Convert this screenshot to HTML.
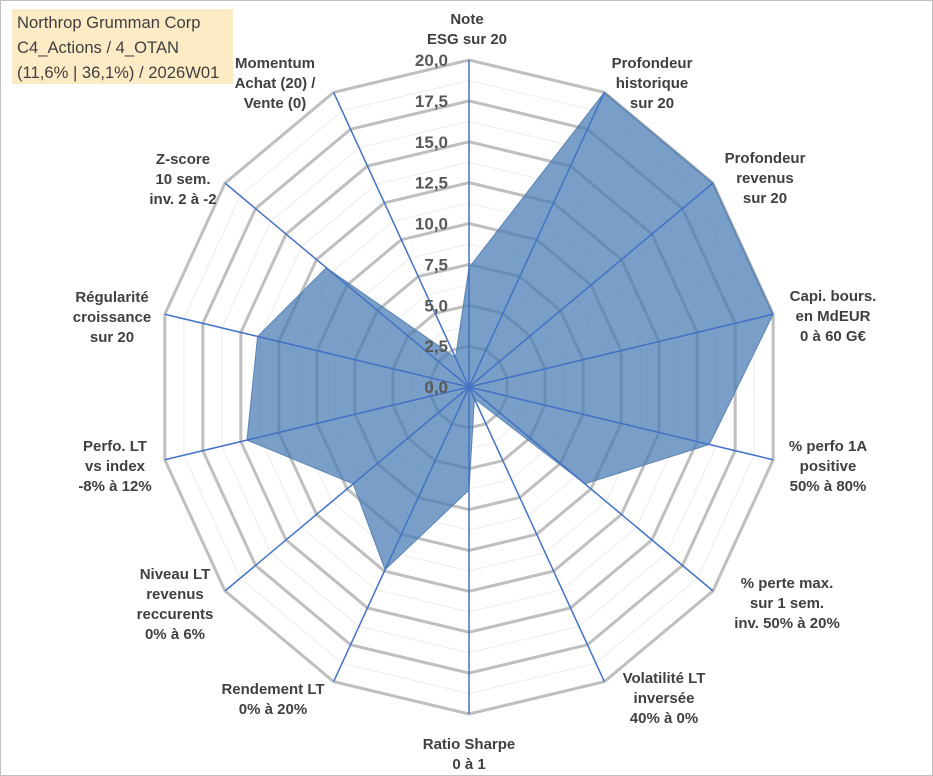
<!DOCTYPE html>
<html><head><meta charset="utf-8">
<style>
html,body{margin:0;padding:0;background:#fff;}
body{width:933px;height:776px;overflow:hidden;font-family:"Liberation Sans",sans-serif;}
#frame{position:absolute;left:0;top:0;width:931px;height:774px;border:1px solid #bfbfbf;}
#title{position:absolute;left:12px;top:9px;width:221px;height:75px;background:#fdebc6;color:#404040;font-size:16.6px;line-height:25px;padding-left:5px;box-sizing:border-box;padding-top:1px;white-space:nowrap;overflow:hidden;}
svg{position:absolute;left:0;top:0;}
.lbl{font-weight:bold;font-size:15px;fill:#404040;text-anchor:middle;}
.tick{font-weight:bold;font-size:17px;fill:#595959;text-anchor:end;}
</style></head>
<body>
<div id="frame"></div>
<div id="title">Northrop Grumman Corp<br>C4_Actions / 4_OTAN<br>(11,6% | 36,1%) / 2026W01</div>
<svg id="chart" width="933" height="776"></svg>
<script>
const categories=[["Note","ESG sur 20"],["Profondeur","historique","sur 20"],["Profondeur","revenus","sur 20"],["Capi. bours.","en MdEUR","0 à 60 G€"],["% perfo 1A","positive","50% à 80%"],["% perte max.","sur 1 sem.","inv. 50% à 20%"],["Volatilité LT","inversée","40% à 0%"],["Ratio Sharpe","0 à 1"],["Rendement LT","0% à 20%"],["Niveau LT","revenus","reccurents","0% à 6%"],["Perfo. LT","vs index","-8% à 12%"],["Régularité","croissance","sur 20"],["Z-score","10 sem.","inv. 2 à -2"],["Momentum","Achat (20) /","Vente (0)"]];
const values=[7.3,20,20,20,15.8,9.5,0.8,6.3,12.4,9.5,14.6,13.9,11.7,2];
const tickLabels=["0,0","2,5","5,0","7,5","10,0","12,5","15,0","17,5","20,0"];
const maxVal=20;
const labelPos=[[467,19],[652,63],[765,158],[833,296],[828,446],[787,583],[664,678],[469,744],[273,689],[175,574],[115,446],[112,297],[183,159],[275,63]];
const NS="http://www.w3.org/2000/svg";
const svg=document.getElementById('chart');
const cx=469,cy=387,RX=312,RY=327;
const n=categories.length;
function pt(i,v){const a=2*Math.PI*i/n;return [cx+Math.sin(a)*RX*v/maxVal,cy-Math.cos(a)*RY*v/maxVal];}
function mk(t,attrs){const e=document.createElementNS(NS,t);for(const k in attrs)e.setAttribute(k,attrs[k]);svg.appendChild(e);return e;}
for(let k=1;k<=16;k++){const v=k*1.25;const pts=[];for(let i=0;i<n;i++)pts.push(pt(i,v).join(','));
const major=k%2===0;
const r=mk('polygon',{points:pts.join(' '),fill:'none',stroke:major?'#bfbfbf':'#ececec','stroke-width':major?3:1});

}
const dp=values.map((v,i)=>pt(i,v).join(',')).join(' ');
const area=mk('polygon',{points:dp,fill:'#4a7cb4','fill-opacity':'0.74',stroke:'#5b84b3','stroke-width':1});


for(let i=0;i<n;i++){const p=pt(i,maxVal);const l=mk('line',{x1:cx,y1:cy,x2:p[0],y2:p[1],stroke:'#4472c4','stroke-width':1.5});

}
const c=mk('circle',{cx:cx,cy:cy,r:3,fill:'#4472c4'});


tickLabels.forEach((t,k)=>{const y=cy-RY*(k*2.5)/maxVal;const e=mk('text',{x:448,y:y+6,class:'tick'});e.textContent=t;

});
categories.forEach((lines,i)=>{const [x,y]=labelPos[i];const g=mk('text',{x:x,y:y,class:'lbl'});


lines.forEach((s,j)=>{const ts=document.createElementNS(NS,'tspan');ts.setAttribute('x',x);ts.setAttribute('y',y+j*20+5);ts.textContent=s;g.appendChild(ts);});});
</script>
</body></html>
